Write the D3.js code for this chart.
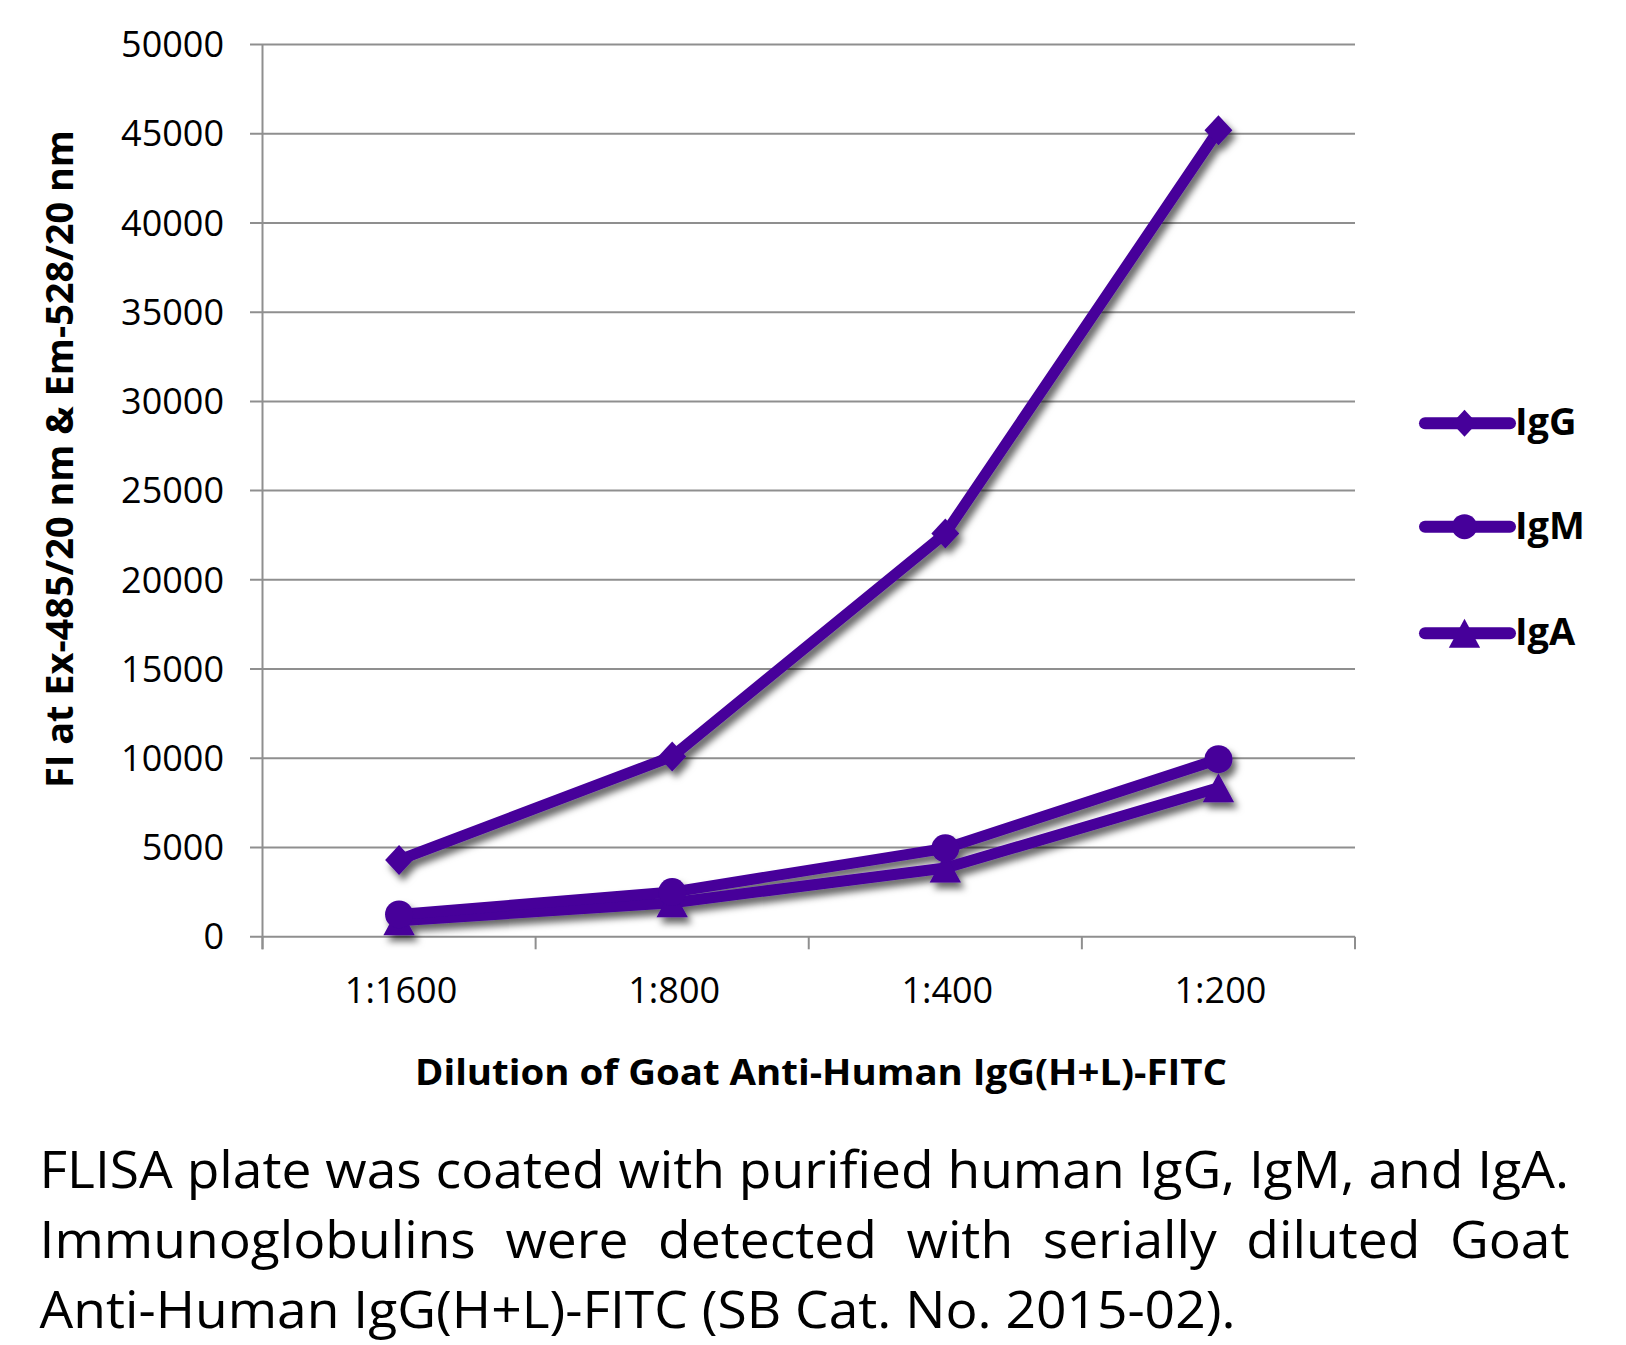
<!DOCTYPE html>
<html><head><meta charset="utf-8">
<script src="https://cdn.jsdelivr.net/npm/d3@7"></script>
<style>
body{margin:0;background:#fff}
svg{display:block}
text{font-family:'Open Sans',sans-serif;fill:#000}
</style>
</head><body>
<script>
// ---- data ----
const categories = ["1:1600", "1:800", "1:400", "1:200"];
const igG = [4300, 10100, 22600, 45200];
const igM = [1250, 2500, 4950, 9950];
const igA = [900, 1900, 3850, 8350];
const seriesNames = ["IgG", "IgM", "IgA"];
const yTicks = [0, 5000, 10000, 15000, 20000, 25000, 30000, 35000, 40000, 45000, 50000];
const xTitle = "Dilution of Goat Anti-Human IgG(H+L)-FITC";
const yTitle = "FI at Ex-485/20 nm & Em-528/20 nm";
const captionLines = [
  "FLISA plate was coated with purified human IgG, IgM, and IgA.",
  "Immunoglobulins were detected with serially diluted Goat",
  "Anti-Human IgG(H+L)-FITC (SB Cat. No. 2015-02)."
];

// ---- layout ----
const W = 1626, H = 1345;
const plot = {left: 262.5, right: 1355, top: 44.5, bottom: 936.7};
const color = "#46009a";
const grid = "#8f8f8f";

const svg = d3.select("body").append("svg").attr("width", W).attr("height", H);

const defs = svg.append("defs");
const f = defs.append("filter").attr("id", "sh").attr("x", "-20%").attr("y", "-20%").attr("width", "140%").attr("height", "140%");
f.append("feDropShadow").attr("dx", 4).attr("dy", 6).attr("stdDeviation", 3.5)
  .attr("flood-color", "#000").attr("flood-opacity", 0.6);

const x = d3.scaleBand().domain(categories).range([plot.left, plot.right]).padding(0);
const y = d3.scaleLinear().domain([0, 50000]).range([plot.bottom, plot.top]);
const cx = c => x(c) + x.bandwidth() / 2;

// custom marker shapes (size = half height)
const diamond = {draw(ctx, s){ const w = s * 0.93; ctx.moveTo(0, -s); ctx.lineTo(w, 0); ctx.lineTo(0, s); ctx.lineTo(-w, 0); ctx.closePath(); }};
const circle = {draw(ctx, s){ ctx.moveTo(s, 0); ctx.arc(0, 0, s, 0, 2 * Math.PI); }};
const triangle = {draw(ctx, s){ const w = s * 1.08; ctx.moveTo(0, -s); ctx.lineTo(w, s); ctx.lineTo(-w, s); ctx.closePath(); }};
const shapes = [diamond, circle, triangle];
const chartSizes = [15, 14, 14.5];
const legendSizes = [13.5, 12.5, 14.5];

// gridlines
svg.append("g").selectAll("line").data(yTicks).join("line")
  .attr("x1", 250).attr("x2", plot.right)
  .attr("y1", d => y(d)).attr("y2", d => y(d))
  .attr("stroke", grid).attr("stroke-width", 2);

// y axis line
svg.append("line").attr("x1", plot.left).attr("x2", plot.left)
  .attr("y1", plot.top).attr("y2", plot.bottom + 12.6)
  .attr("stroke", grid).attr("stroke-width", 2);

// x ticks at band edges
const edges = categories.map(c => x(c)).concat([plot.right]);
svg.append("g").selectAll("line").data(edges).join("line")
  .attr("x1", d => d).attr("x2", d => d)
  .attr("y1", plot.bottom).attr("y2", plot.bottom + 12.6)
  .attr("stroke", grid).attr("stroke-width", 2);

// y tick labels
svg.append("g").selectAll("text").data(yTicks).join("text")
  .attr("x", 224).attr("y", d => y(d) + 12.7)
  .attr("text-anchor", "end").attr("font-size", 36)
  .text(d => d);

// x tick labels
svg.append("g").selectAll("text").data(categories).join("text")
  .attr("x", d => cx(d) + 2).attr("y", 1003)
  .attr("text-anchor", "middle").attr("font-size", 36)
  .text(d => d);

// axis titles
svg.append("text").attr("x", 821).attr("y", 1085).attr("text-anchor", "middle")
  .attr("font-size", 35).attr("font-weight", "bold")
  .attr("textLength", 812).attr("lengthAdjust", "spacingAndGlyphs")
  .text(xTitle);

svg.append("text").attr("transform", "translate(73,459) rotate(-90)")
  .attr("text-anchor", "middle").attr("font-size", 38).attr("font-weight", "bold")
  .attr("textLength", 658).attr("lengthAdjust", "spacingAndGlyphs")
  .text(yTitle);

// series
const series = [igG, igM, igA];
const line = d3.line().x((v, i) => cx(categories[i])).y(v => y(v));
const sg = svg.append("g").attr("filter", "url(#sh)");
series.slice().reverse().forEach((vals, ri) => {
  const si = series.length - 1 - ri;
  const g = sg.append("g");
  g.append("path").attr("d", line(vals)).attr("fill", "none")
    .attr("stroke", color).attr("stroke-width", 11).attr("stroke-linejoin", "round");
  g.selectAll("path.m").data(vals).join("path").attr("class", "m")
    .attr("transform", (v, i) => `translate(${cx(categories[i])},${y(v)})`)
    .attr("d", d3.symbol().type(shapes[si]).size(chartSizes[si]))
    .attr("fill", color);
});

// legend
const legY = [423.3, 526.7, 633.3];
const lg = svg.append("g");
seriesNames.forEach((name, i) => {
  lg.append("line").attr("x1", 1425).attr("x2", 1510).attr("y1", legY[i]).attr("y2", legY[i])
    .attr("stroke", color).attr("stroke-width", 12).attr("stroke-linecap", "round");
  lg.append("path").attr("transform", `translate(1464.5,${legY[i]})`)
    .attr("d", d3.symbol().type(shapes[i]).size(legendSizes[i])).attr("fill", color);
  lg.append("text").attr("x", 1515).attr("y", legY[i] + 12).attr("font-size", 38)
    .attr("font-weight", "bold").text(name);
});

// caption (justified block)
const capLeft = 39.5, capWidth = 1530, capSize = 51;
const capBase = [1188, 1258, 1328];
const cg = svg.append("g");
const t1 = cg.append("text").attr("font-size", capSize).text(captionLines[0]);
const k = capWidth / t1.node().getComputedTextLength();
t1.remove();
const cs = cg.append("g").attr("transform", `translate(${capLeft},0) scale(${k},1)`);
const innerW = capWidth / k;
captionLines.forEach((ln, li) => {
  if (li === 1) {
    const words = ln.split(" ");
    const widths = words.map(w => {
      const t = cs.append("text").attr("font-size", capSize).text(w);
      const wd = t.node().getComputedTextLength(); t.remove(); return wd;
    });
    const gap = (innerW - d3.sum(widths)) / (words.length - 1);
    let xx = 0;
    words.forEach((w, wi) => {
      cs.append("text").attr("x", xx).attr("y", capBase[li]).attr("font-size", capSize).text(w);
      xx += widths[wi] + gap;
    });
  } else {
    cs.append("text").attr("x", 0).attr("y", capBase[li]).attr("font-size", capSize).text(ln);
  }
});
</script>
</body></html>
